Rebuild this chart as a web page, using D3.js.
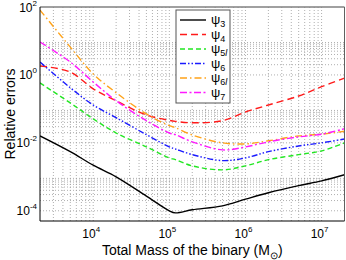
<!DOCTYPE html>
<html>
<head>
<meta charset="utf-8">
<script src="https://cdn.jsdelivr.net/npm/d3@7"></script>
<style>
  body { margin: 0; background: #fff; }
  text { font-family: "Liberation Sans", Arial, sans-serif; }
</style>
</head>
<body>
<svg width="346" height="260"></svg>
<script>
// total mass of the binary (solar masses)
const masses = [2e3, 5e3, 1e4, 2e4, 5e4, 1e5, 1.2e5, 2e5, 5e5, 1e6, 2e6, 5e6, 1e7, 2e7];

// relative errors
const psi3  = [1.6e-2, 5.5e-3, 2.2e-3, 1.0e-3, 2.7e-4, 1.0e-4, 8.7e-5, 1.07e-4, 1.4e-4, 2.2e-4, 3.4e-4, 5.5e-4, 7.6e-4, 1.15e-3];
const psi4  = [1.84, 1.22, 0.39, 0.174, 0.066, 0.046, 0.043, 0.039, 0.045, 0.081, 0.13, 0.24, 0.45, 0.81];
const psi5l = [0.58, 0.15, 0.051, 0.0195, 0.0076, 0.0036, 0.0032, 0.0021, 0.0016, 0.0021, 0.0032, 0.0045, 0.0058, 0.01];
const psi6  = [2.4, 0.42, 0.13, 0.055, 0.0174, 0.0076, 0.0066, 0.0045, 0.003, 0.0036, 0.0055, 0.0081, 0.01, 0.013];
const psi6l = [81, 6.6, 1.07, 0.3, 0.071, 0.032, 0.028, 0.017, 0.01, 0.0093, 0.0115, 0.016, 0.018, 0.022];
const psi7  = [9.3, 2.4, 0.62, 0.174, 0.045, 0.0195, 0.0174, 0.0107, 0.0062, 0.0076, 0.0107, 0.015, 0.018, 0.026];

const subscripts = ["3", "4", "5l", "6", "6l", "7"];
const xTickValues = [1e4, 1e5, 1e6, 1e7];
const yTickValues = [1e-4, 1e-2, 1e0, 1e2];

const svg = d3.select("svg");
const plotLeft = 40, plotRight = 344.5, plotTop = 7, plotBottom = 221;

const x = d3.scaleLog().domain([2e3, 2e7]).range([plotLeft, plotRight]);
const y = d3.scaleLog().domain([5e-5, 1e2]).range([plotBottom, plotTop]);

const series = [
  { name: subscripts[0], values: psi3,  color: "#000000", dash: null },
  { name: subscripts[1], values: psi4,  color: "#ff1a1a", dash: "7,4" },
  { name: subscripts[2], values: psi5l, color: "#22e622", dash: "5,3" },
  { name: subscripts[3], values: psi6,  color: "#1a1aff", dash: "6,2,1.5,2,1.5,2" },
  { name: subscripts[4], values: psi6l, color: "#ffa31a", dash: "7,3,1.5,3" },
  { name: subscripts[5], values: psi7,  color: "#ff1aff", dash: "7,2.5,2,2.5" }
];

svg.append("defs").append("clipPath").attr("id", "plot")
  .append("rect").attr("x", plotLeft).attr("y", plotTop)
  .attr("width", plotRight - plotLeft).attr("height", plotBottom - plotTop);

// grid: matlab style, minors only in decades above labelled ticks on y
const gridX = [];
for (let e = 3; e <= 7; e++) {
  for (let k = 1; k <= 9; k++) {
    const v = k * Math.pow(10, e);
    if (v > 2e3 && v < 2e7) gridX.push(v);
  }
}
const gridY = [];
yTickValues.forEach(t => {
  for (let k = 1; k <= 9; k++) {
    const v = k * t;
    if (v > 5e-5 && v < 1e2) gridY.push(v);
  }
});

const grid = svg.append("g")
  .attr("stroke", "#9a9a9a")
  .attr("stroke-width", 0.8)
  .attr("stroke-dasharray", "1,2");

grid.selectAll(".gx").data(gridX).enter().append("line")
  .attr("x1", d => x(d)).attr("x2", d => x(d))
  .attr("y1", plotTop).attr("y2", plotBottom);

grid.selectAll(".gy").data(gridY).enter().append("line")
  .attr("x1", plotLeft).attr("x2", plotRight)
  .attr("y1", d => y(d)).attr("y2", d => y(d));

// curves
const line = d3.line()
  .x(d => x(d[0]))
  .y(d => y(d[1]))
  .curve(d3.curveCatmullRom.alpha(0.5));

svg.append("g").attr("clip-path", "url(#plot)")
  .selectAll("path").data(series).enter().append("path")
  .attr("d", s => line(masses.map((m, i) => [m, s.values[i]])))
  .attr("fill", "none")
  .attr("stroke", s => s.color)
  .attr("stroke-width", 1.4)
  .attr("stroke-dasharray", s => s.dash);

// frame
svg.append("line").attr("x1", plotLeft).attr("x2", plotRight).attr("y1", plotTop).attr("y2", plotTop)
  .attr("stroke", "#808080").attr("stroke-width", 1.5);
svg.append("line").attr("x1", plotRight).attr("x2", plotRight).attr("y1", plotTop).attr("y2", plotBottom)
  .attr("stroke", "#606060").attr("stroke-width", 1);
svg.append("line").attr("x1", plotLeft).attr("x2", plotRight).attr("y1", plotBottom).attr("y2", plotBottom)
  .attr("stroke", "#000").attr("stroke-width", 1);
svg.append("line").attr("x1", plotLeft).attr("x2", plotLeft).attr("y1", plotTop).attr("y2", plotBottom)
  .attr("stroke", "#000").attr("stroke-width", 1);

// tick labels
const xl = svg.append("g").selectAll("text").data(xTickValues).enter().append("text")
  .attr("x", d => x(d) - 2).attr("y", 238)
  .attr("text-anchor", "middle").attr("font-size", 12);
xl.append("tspan").text("10");
xl.append("tspan").attr("dy", -6).attr("font-size", 8).text(d => Math.round(Math.log10(d)));

const yl = svg.append("g").selectAll("text").data(yTickValues).enter().append("text")
  .attr("x", 37).attr("y", d => y(d) + 4.5)
  .attr("text-anchor", "end").attr("font-size", 12);
yl.append("tspan").text("10");
yl.append("tspan").attr("dy", -6).attr("font-size", 8).text(d => Math.round(Math.log10(d)));

// axis titles
const xt = svg.append("text")
  .attr("x", (plotLeft + plotRight) / 2).attr("y", 255)
  .attr("text-anchor", "middle").attr("font-size", 14);
xt.append("tspan").text("Total Mass of the binary (M");
xt.append("tspan").attr("dy", 4).attr("font-size", 10).text("\u2299");
xt.append("tspan").attr("dy", -4).text(")");

svg.append("text")
  .attr("transform", "translate(15," + (plotTop + plotBottom) / 2 + ") rotate(-90)")
  .attr("text-anchor", "middle").attr("font-size", 14)
  .text("Relative errors");

// legend
const legend = svg.append("g");
legend.append("rect")
  .attr("x", 176).attr("y", 10).attr("width", 54).attr("height", 93)
  .attr("fill", "#fff").attr("stroke", "#555").attr("stroke-width", 1);

const item = legend.selectAll(".item").data(series).enter().append("g")
  .attr("transform", (d, i) => "translate(0," + (20 + i * 14.5) + ")");
item.append("line")
  .attr("x1", 180).attr("x2", 206).attr("y1", 0).attr("y2", 0)
  .attr("stroke", d => d.color).attr("stroke-width", 1.4)
  .attr("stroke-dasharray", d => d.dash);
const lt = item.append("text").attr("x", 211).attr("y", 4).attr("font-size", 13);
lt.append("tspan").text("\u03c8");
lt.append("tspan").attr("dy", 3).attr("font-size", 9).text(d => d.name[0]);
lt.append("tspan").attr("font-size", 9).attr("font-style", "italic").text(d => d.name.slice(1));
</script>
</body>
</html>
